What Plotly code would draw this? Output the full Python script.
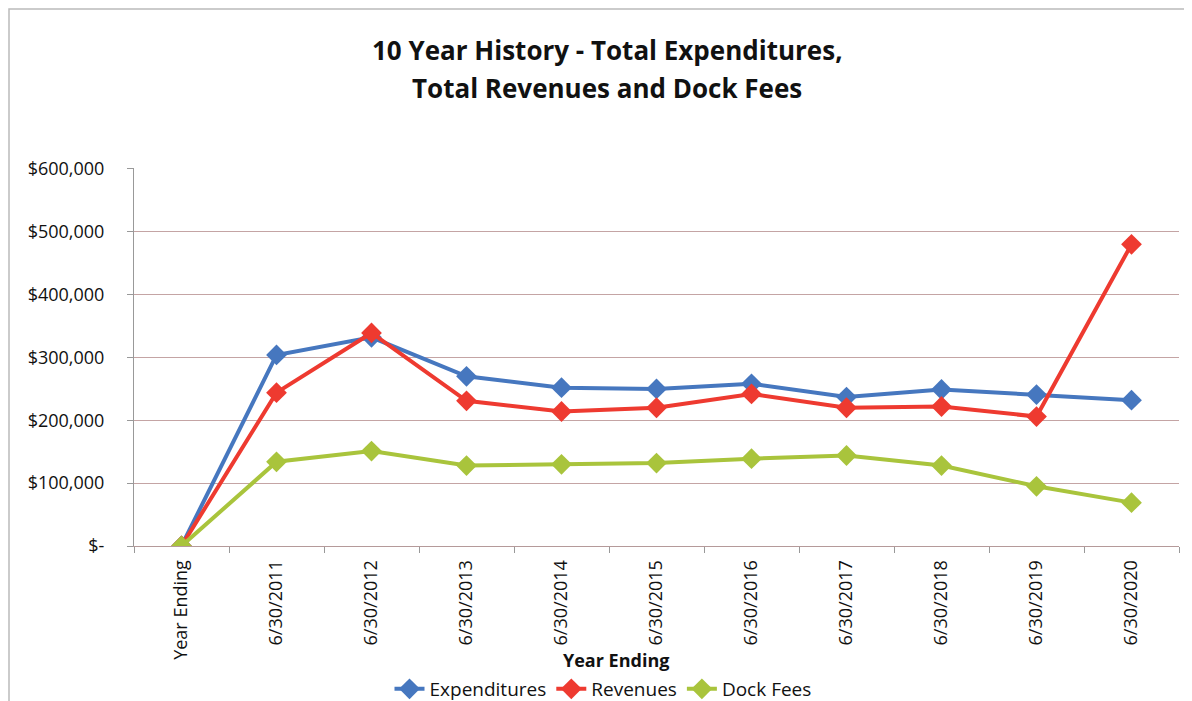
import plotly.graph_objects as go

categories = ["Year Ending", "6/30/2011", "6/30/2012", "6/30/2013", "6/30/2014", "6/30/2015",
              "6/30/2016", "6/30/2017", "6/30/2018", "6/30/2019", "6/30/2020"]
expenditures = [0, 304000, 332000, 270000, 252000, 250000, 258000, 237000, 249000, 241000, 232000]
revenues = [0, 244000, 339000, 231000, 214000, 220000, 242000, 220000, 222000, 206000, 480000]
dock_fees = [0, 134000, 151000, 128000, 130000, 132000, 139000, 144000, 128000, 95000, 69000]

y_ticks = [0, 100000, 200000, 300000, 400000, 500000, 600000]
y_tick_text = ["$-", "$100,000", "$200,000", "$300,000", "$400,000", "$500,000", "$600,000"]

series = [
    ("Expenditures", expenditures, "#4677BF"),
    ("Revenues", revenues, "#EE3A30"),
    ("Dock Fees", dock_fees, "#A9C43C"),
]

FONT = "Open Sans"
OFF = 8  # page body margin
W, H = 1192 - OFF, 701 - OFF
# plot area in page pixels: x 134..1179, y 168..546
L, T = 134 - OFF, 168 - OFF
R = W - (1179 - OFF)
B = H - (546 - OFF)
PW, PH = W - L - R, H - T - B


def px(xpage):
    return (xpage - OFF - L) / PW


def py(ypage):
    return 1 - (ypage - OFF - T) / PH


fig = go.Figure()
for name, vals, color in series:
    fig.add_trace(go.Scatter(
        x=categories, y=vals, name=name, mode="lines+markers",
        line=dict(color=color, width=4),
        marker=dict(symbol="diamond", size=16, color=color),
    ))

fig.update_layout(
    width=W, height=H,
    paper_bgcolor="white", plot_bgcolor="white",
    margin=dict(l=L, r=R, t=T, b=B, autoexpand=False),
    font=dict(family=FONT, color="#111111"),
    showlegend=True,
    legend=dict(
        orientation="h", x=px(603), xanchor="center", xref="paper",
        y=1 - (689 - OFF) / H, yanchor="middle", yref="container",
        font=dict(family=FONT, size=19, color="#111111"),
        bgcolor="rgba(0,0,0,0)",
    ),
    xaxis=dict(
        type="category",
        tickangle=-90,
        tickson="boundaries",
        ticks="outside", ticklen=6, tickcolor="#999999",
        showgrid=False,
        showline=True, linecolor="#b59a9a", linewidth=1,
        tickfont=dict(family=FONT, size=18, color="#111111"),
        ticklabelstandoff=6,
        range=[-0.5, 10.5],
        automargin=False,
    ),
    yaxis=dict(
        range=[0, 601500],
        tickvals=y_ticks, ticktext=y_tick_text,
        showgrid=True, gridcolor="#c4a4a4", gridwidth=1,
        showline=True, linecolor="#999999", linewidth=1,
        ticks="outside", ticklen=6, tickcolor="#999999",
        zeroline=False,
        tickfont=dict(family=FONT, size=18, color="#111111"),
        ticklabelstandoff=19,
        automargin=False,
    ),
    annotations=[
        dict(text="<b>10 Year History - Total Expenditures,</b>", xref="paper", yref="paper",
             x=px(607), y=py(50), xanchor="center", yanchor="middle", showarrow=False,
             font=dict(family=FONT, size=26, color="#111111")),
        dict(text="<b>Total Revenues and Dock Fees</b>", xref="paper", yref="paper",
             x=px(607), y=py(88), xanchor="center", yanchor="middle", showarrow=False,
             font=dict(family=FONT, size=26, color="#111111")),
        dict(text="<b>Year Ending</b>", xref="paper", yref="paper",
             x=px(616), y=py(660), xanchor="center", yanchor="middle",
             showarrow=False,
             font=dict(family=FONT, size=18, color="#111111")),
    ],
    shapes=[
        dict(type="rect", xref="paper", yref="paper",
             x0=px(9), x1=px(1200), y0=py(720), y1=py(9),
             line=dict(color="#bbbbbb", width=1.5), layer="below"),
    ],
)

fig.write_html("out.html")
